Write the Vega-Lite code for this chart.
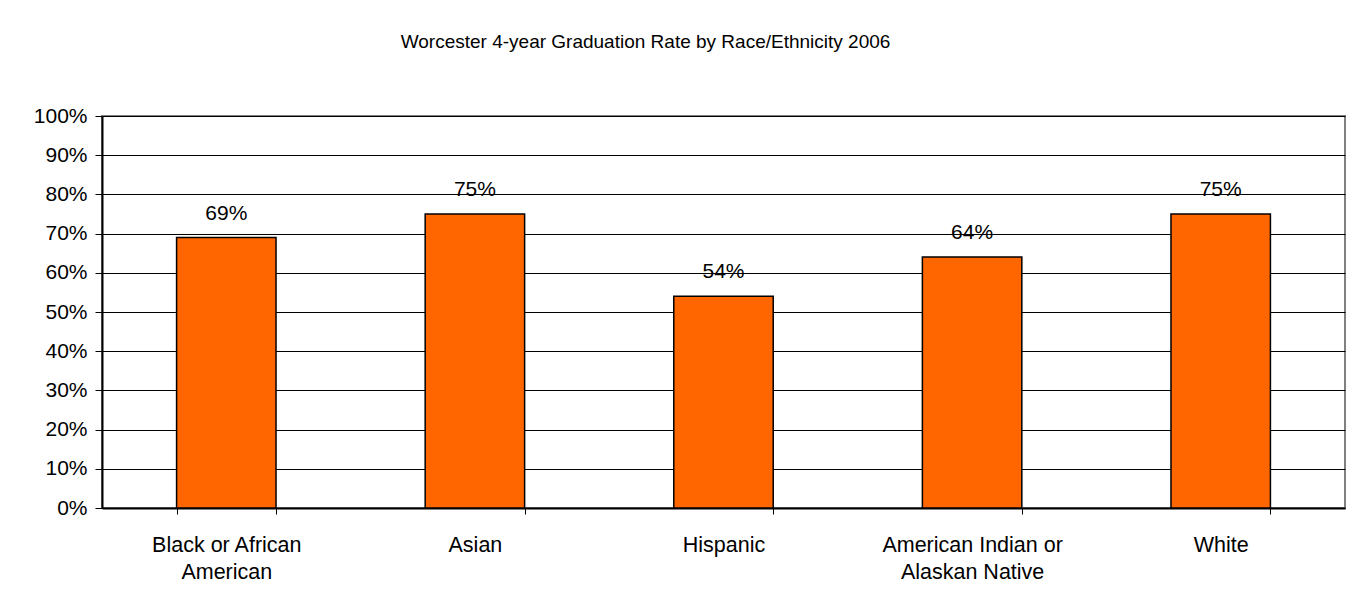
{
  "$schema": "https://vega.github.io/schema/vega-lite/v6.json",
  "autosize": {"type": "none"},
  "width": 1243,
  "height": 392,
  "padding": {"left": 102, "top": 116, "right": 18, "bottom": 100},
  "background": "white",
  "title": {
    "text": "Worcester 4-year Graduation Rate by Race/Ethnicity 2006",
    "font": "Liberation Sans",
    "fontSize": 19,
    "fontWeight": "normal",
    "color": "#000000",
    "anchor": "middle",
    "dx": -78,
    "baseline": "alphabetic",
    "offset": 38
  },
  "config": {
    "view": {"stroke": "#808080", "strokeWidth": 2},
    "font": "Liberation Sans"
  },
  "data": {
    "values": [
      {"group": "Black or African|American", "rate": 0.69},
      {"group": "Asian", "rate": 0.75},
      {"group": "Hispanic", "rate": 0.54},
      {"group": "American Indian or|Alaskan Native", "rate": 0.64},
      {"group": "White", "rate": 0.75}
    ]
  },
  "encoding": {
    "x": {
      "field": "group",
      "type": "nominal",
      "sort": null,
      "scale": {"paddingInner": 0.6, "paddingOuter": 0.3},
      "axis": {
        "title": null,
        "labelAngle": 0,
        "labelExpr": "split(datum.label, '|')",
        "labelFont": "Liberation Sans",
        "labelFontSize": 21.5,
        "labelColor": "#000000",
        "labelLineHeight": 27,
        "labelPadding": 20,
        "labelBaseline": "top",
        "tickBand": "extent",
        "tickSize": 6,
        "tickColor": "#000000",
        "domainColor": "#000000",
        "domainWidth": 2,
        "labelLimit": 400
      }
    },
    "y": {
      "field": "rate",
      "type": "quantitative",
      "scale": {"domain": [0, 1]},
      "axis": {
        "title": null,
        "format": ".0%",
        "tickCount": 11,
        "values": [0, 0.1, 0.2, 0.3, 0.4, 0.5, 0.6, 0.7, 0.8, 0.9, 1],
        "labelFont": "Liberation Sans",
        "labelFontSize": 21,
        "labelColor": "#000000",
        "labelPadding": 8,
        "tickSize": 7,
        "tickColor": "#000000",
        "domainColor": "#000000",
        "domainWidth": 2,
        "gridColor": "#000000",
        "gridOpacity": 1,
        "gridWidth": 1
      }
    }
  },
  "layer": [
    {
      "mark": {"type": "bar", "fill": "#FF6600", "stroke": "#000000", "strokeWidth": 1.5}
    },
    {
      "mark": {"type": "text", "baseline": "alphabetic", "dy": -18, "font": "Liberation Sans", "fontSize": 21, "color": "#000000"},
      "encoding": {
        "text": {"field": "rate", "type": "quantitative", "format": ".0%"}
      }
    }
  ]
}
